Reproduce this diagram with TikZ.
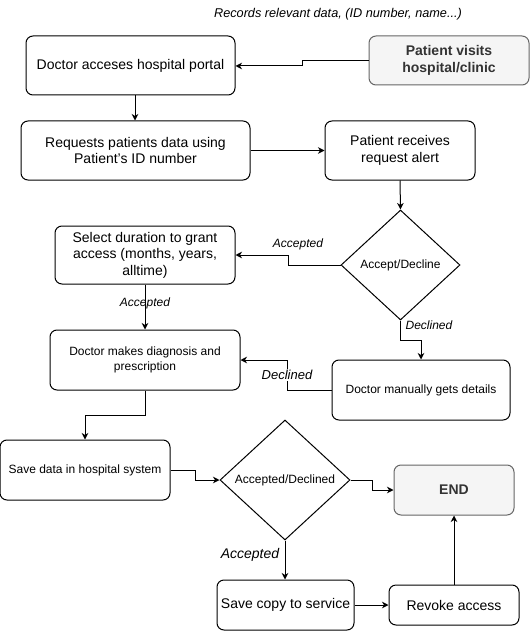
\documentclass[tikz,border=0pt]{standalone}
\usepackage{fontspec}
\setmainfont{Liberation Sans}
\usetikzlibrary{arrows.meta,shapes.geometric}
\definecolor{greyfill}{HTML}{F5F5F5}
\definecolor{greyline}{HTML}{666666}
\definecolor{greytext}{HTML}{333333}
\begin{document}
\begin{tikzpicture}[x=1pt,y=-1pt,
  box/.style={draw=black, line width=1pt, rounded corners=7pt, align=center, inner sep=2pt},
  bigtxt/.style={font=\fontsize{14}{16.5}\selectfont},
  smalltxt/.style={font=\fontsize{12}{15}\selectfont},
  greybox/.style={draw=greyline, line width=1pt, rounded corners=7pt, fill=greyfill, text=greytext, align=center, font=\fontsize{14}{16.5}\selectfont\bfseries},
  dec/.style={draw=black, line width=1pt, diamond, inner sep=0pt, align=center, font=\fontsize{12}{15}\selectfont},
  lbl/.style={font=\fontsize{12}{14}\selectfont\itshape, inner sep=1pt},
  conn/.style={draw=black, line width=1pt, -{Stealth[length=6.5pt,width=6.5pt,inset=2pt]}},
]
\useasboundingbox (0,0) rectangle (530,631);

\node[lbl,font=\fontsize{12.7}{14}\selectfont\itshape] (note) at (338,14) {Records relevant data, (ID number, name...)};

\node[box,bigtxt,minimum width=209pt,minimum height=59pt] (portal) at (130.5,65.5) {Doctor acceses hospital portal};
\node[greybox,minimum width=160pt,minimum height=49pt] (visit) at (449,60.5) {Patient visits\\hospital/clinic};
\node[box,bigtxt,minimum width=229pt,minimum height=59pt] (req) at (135.5,150.5) {Requests patients data using\\Patient's ID number};
\node[box,bigtxt,minimum width=150pt,minimum height=59pt] (alert) at (400,150.5) {Patient receives\\request alert};
\node[dec,minimum width=119pt,minimum height=110pt] (ad) at (400.5,265) {Accept/Decline};
\node[box,bigtxt,minimum width=180pt,minimum height=58pt] (dur) at (145,255) {Select duration to grant\\access (months, years,\\alltime)};
\node[box,smalltxt,minimum width=190pt,minimum height=60pt] (diag) at (145,360) {Doctor makes diagnosis and\\prescription};
\node[box,smalltxt,minimum width=178pt,minimum height=60pt] (manual) at (421,390) {Doctor manually gets details};
\node[box,smalltxt,minimum width=170pt,minimum height=60pt] (save) at (85,470) {Save data in hospital system};
\node[dec,minimum width=130pt,minimum height=120pt] (ad2) at (285,480) {Accepted/Declined};
\node[greybox,minimum width=120pt,minimum height=50pt] (end) at (454,490) {END};
\node[box,bigtxt,minimum width=137pt,minimum height=50pt] (copy) at (285.5,605) {Save copy to service};
\node[box,bigtxt,minimum width=130pt,minimum height=40pt] (revoke) at (454,605) {Revoke access};

\draw[conn] (visit.west) -- (302,60.5) -- (302,66) -- (portal.east |- 0,66);
\draw[conn] (portal.south -| 135,0) -- (req.north -| 135,0);
\draw[conn] (req.east) -- (alert.west);
\draw[conn] (alert.south) -- (ad.north);
\draw[conn] (ad.west) -- (288,265) -- (288,255) -- (dur.east);
\draw[conn] (ad.south) -- (400.5,340) -- (421,340) -- (manual.north);
\draw[conn] (dur.south) -- (diag.north);
\draw[conn] (manual.west) -- (287,390) -- (287,360) -- (diag.east);
\draw[conn] (diag.south) -- (145,415) -- (85,415) -- (save.north);
\draw[conn] (save.east) -- (195,470) -- (195,480) -- (ad2.west);
\draw[conn] (ad2.east) -- (372,480) -- (372,490) -- (end.west);
\draw[conn] (ad2.south) -- (copy.north -| ad2.south);
\draw[conn] (copy.east) -- (revoke.west);
\draw[conn] (revoke.north) -- (end.south);

\node[lbl] (l1) at (298,244) {Accepted};
\node[lbl] (l2) at (429,325) {Declined};
\node[lbl] (l3) at (145,303) {Accepted};
\node[lbl,fill=white,font=\fontsize{13}{15}\selectfont\itshape] (l4) at (287,375) {Declined};
\node[lbl,font=\fontsize{14}{16}\selectfont\itshape] (l5) at (250,555) {Accepted};
\end{tikzpicture}
\end{document}
